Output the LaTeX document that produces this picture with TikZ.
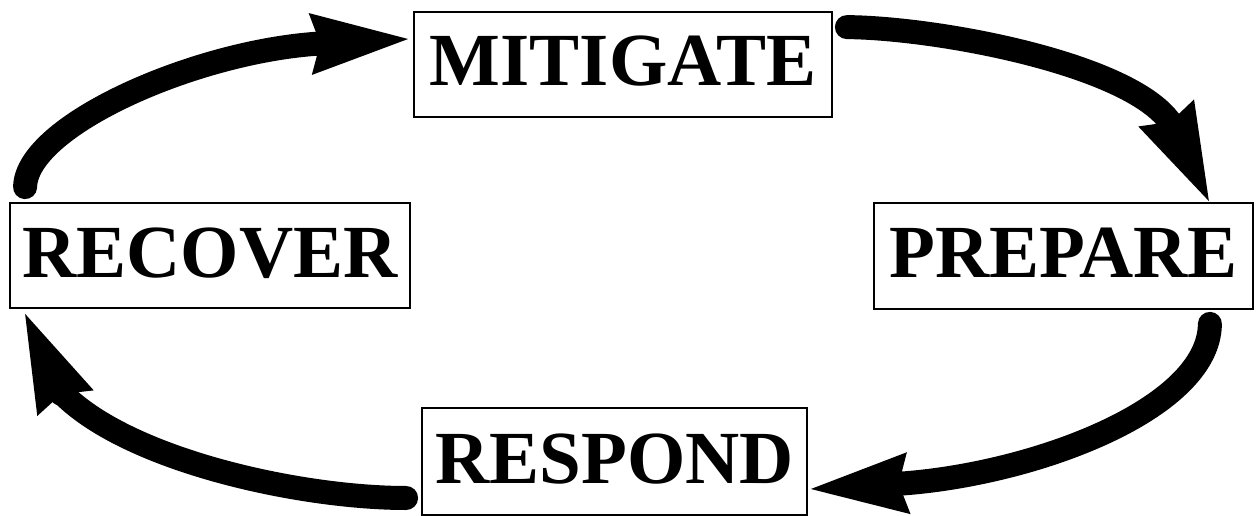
\documentclass[tikz,border=0pt]{standalone}
\usepackage{fontspec}
\setmainfont{Liberation Serif}
\usetikzlibrary{arrows.meta}
\tikzset{
  phase/.style={draw=black, line width=1.8pt, inner sep=0pt, text height=50pt, text depth=7pt,
    font=\fontsize{75}{82}\selectfont\bfseries},
  cyclearrow/.style={line width=24pt, line cap=round, line join=round,
    -{Stealth[length=98pt, width=62pt, inset=10pt, line width=0pt]}}
}
\begin{document}
\begin{tikzpicture}[x=1pt, y=-1pt]
\useasboundingbox (0,0) rectangle (1256,516);
\node[phase, minimum width=418pt, minimum height=105pt] (mitigate) at (623,64.5) {MITIGATE};
\node[phase, minimum width=400pt, minimum height=105pt] (recover) at (210,255.5) {RECOVER};
\node[phase, minimum width=379pt, minimum height=106pt] (prepare) at (1063.5,256) {PREPARE};
\node[phase, minimum width=385pt, minimum height=107pt] (respond) at (614.5,461.5) {RESPOND};

\draw[cyclearrow] ([xshift=16pt,yshift=15pt]recover.north west)
  .. controls (26,125) and (199,49.5) .. (324,43.3) -- ([xshift=-5pt,yshift=25.5pt]mitigate.west);
\draw[cyclearrow] ([xshift=14pt,yshift=-16pt]mitigate.north east)
  .. controls (940,28) and (1135,65) .. (1172,125) -- ([xshift=-45pt,yshift=1pt]prepare.north east);
\draw[cyclearrow] ([xshift=-44pt,yshift=-14pt]prepare.south east)
  .. controls (1209,410) and (1030,476) .. (895,484) -- ([xshift=3pt,yshift=-27.5pt]respond.east);
\draw[cyclearrow] ([xshift=-15pt,yshift=-36.5pt]respond.west)
  .. controls (300,498) and (125,460) .. (60,391) -- ([xshift=16pt,yshift=-5pt]recover.south west);
\end{tikzpicture}
\end{document}
